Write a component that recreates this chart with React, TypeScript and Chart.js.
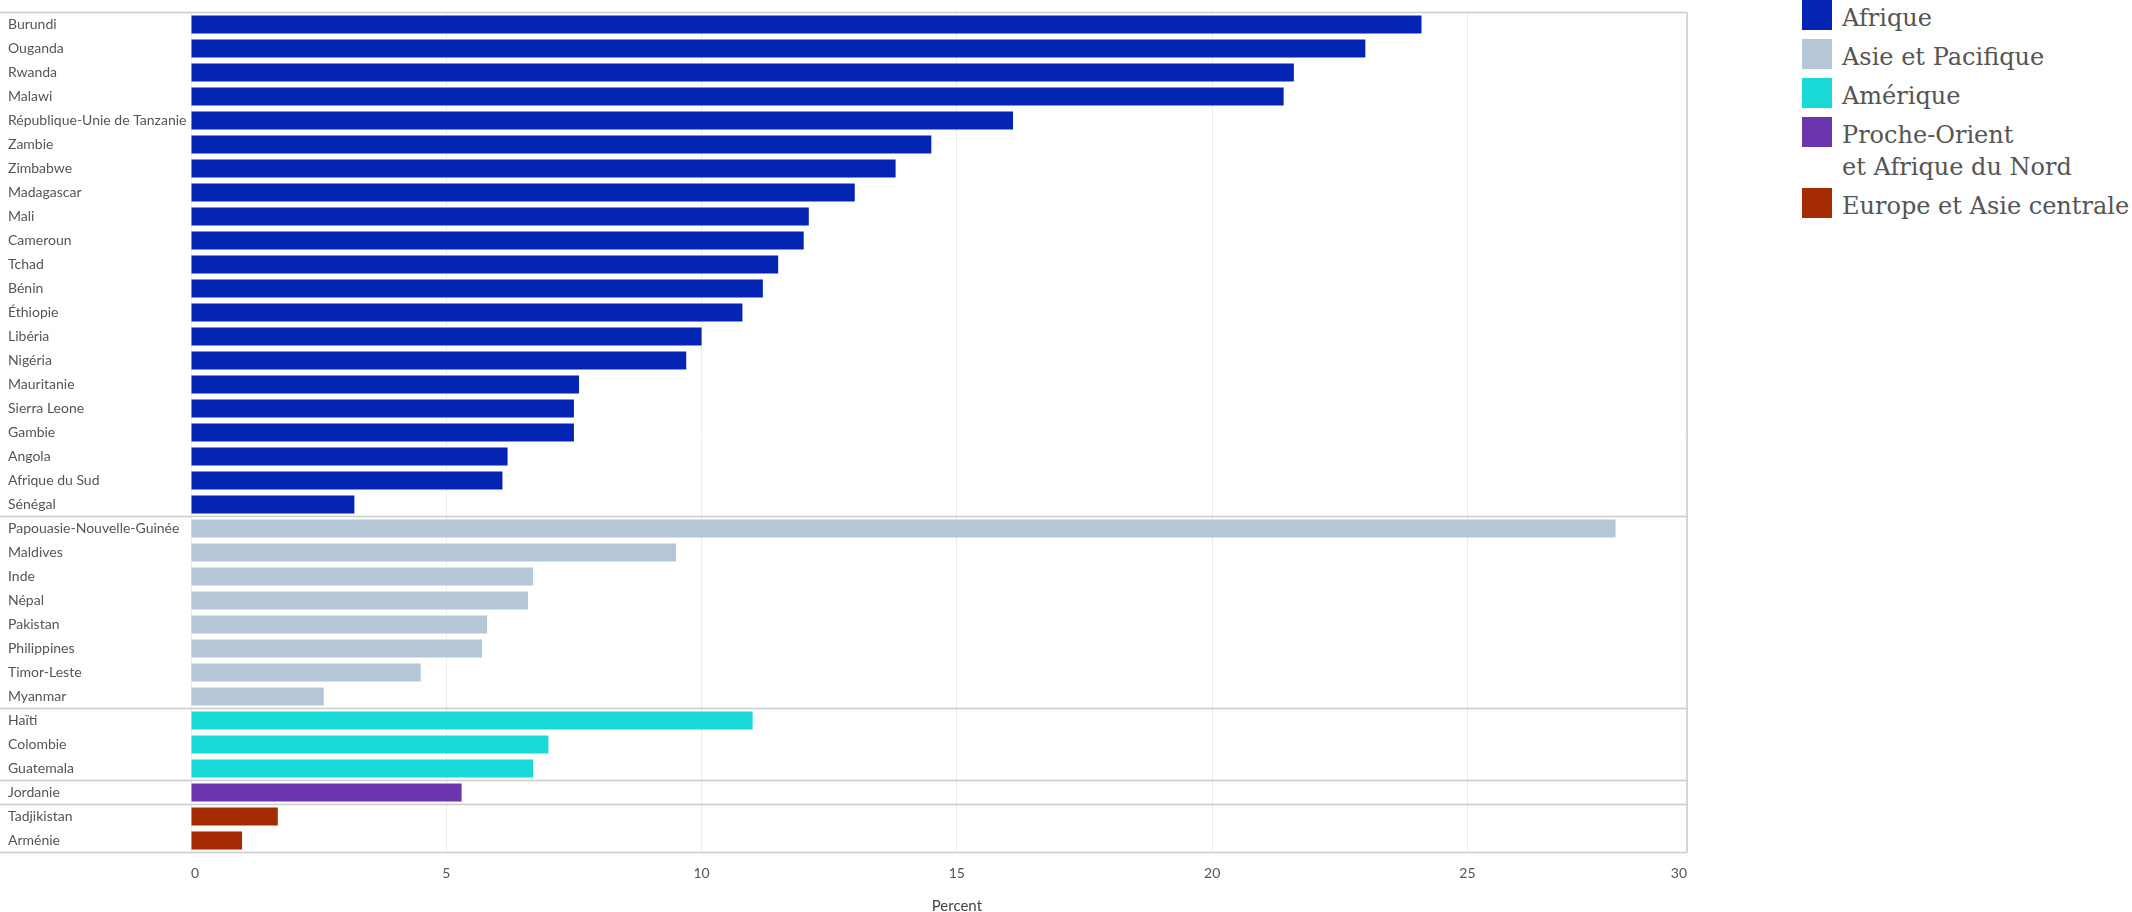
import React, { useEffect, useRef } from "react";
import { Chart, registerables } from "chart.js";

Chart.register(...registerables);

// ---- data ----
const countries = [
  "Burundi", "Ouganda", "Rwanda", "Malawi", "République-Unie de Tanzanie",
  "Zambie", "Zimbabwe", "Madagascar", "Mali", "Cameroun", "Tchad", "Bénin",
  "Éthiopie", "Libéria", "Nigéria", "Mauritanie", "Sierra Leone", "Gambie",
  "Angola", "Afrique du Sud", "Sénégal",
  "Papouasie-Nouvelle-Guinée", "Maldives", "Inde", "Népal", "Pakistan",
  "Philippines", "Timor-Leste", "Myanmar",
  "Haïti", "Colombie", "Guatemala",
  "Jordanie",
  "Tadjikistan", "Arménie",
];

const values = [
  24.1, 23.0, 21.6, 21.4, 16.1,
  14.5, 13.8, 13.0, 12.1, 12.0, 11.5, 11.2,
  10.8, 10.0, 9.7, 7.6, 7.5, 7.5,
  6.2, 6.1, 3.2,
  27.9, 9.5, 6.7, 6.6, 5.8,
  5.7, 4.5, 2.6,
  11.0, 7.0, 6.7,
  5.3,
  1.7, 1.0,
];

// region index of each country (same order as countries)
const countryRegion = [
  0, 0, 0, 0, 0, 0, 0, 0, 0, 0, 0, 0, 0, 0, 0, 0, 0, 0, 0, 0, 0,
  1, 1, 1, 1, 1, 1, 1, 1,
  2, 2, 2,
  3,
  4, 4,
];

const regionNames = [
  "Afrique",
  "Asie et Pacifique",
  "Amérique",
  "Proche-Orient\net Afrique du Nord",
  "Europe et Asie centrale",
];

const regionColors = ["#0425b3", "#b5c7d6", "#19d9d7", "#6b35ad", "#a52b02"];

const xTicks = [0, 5, 10, 15, 20, 25, 30];
const xMax = 29.3;
const xTitle = "Percent";

const LABEL_FONT = "Lato";
const TEXT_COLOR = "#555555";

const framePlugin = {
  id: "frame",
  beforeDatasetsDraw(chart: any) {
    const { ctx, chartArea, scales } = chart;
    const y = scales.y;
    ctx.save();
    ctx.strokeStyle = "#cccccc";
    ctx.lineWidth = 1.5;
    const ys: number[] = [chartArea.top, chartArea.bottom];
    for (let i = 1; i < countryRegion.length; i++) {
      if (countryRegion[i] !== countryRegion[i - 1]) {
        ys.push((y.getPixelForValue(i - 1) + y.getPixelForValue(i)) / 2);
      }
    }
    ys.forEach((py) => {
      ctx.beginPath();
      ctx.moveTo(0, py);
      ctx.lineTo(chartArea.right, py);
      ctx.stroke();
    });
    ctx.beginPath();
    ctx.moveTo(chartArea.right, chartArea.top);
    ctx.lineTo(chartArea.right, chartArea.bottom);
    ctx.stroke();
    ctx.restore();
  },
  afterDraw(chart: any) {
    const { ctx, scales } = chart;
    const x = scales.x;
    const cx =
      (x.getPixelForValue(xTicks[0]) +
        x.getPixelForValue(xTicks[xTicks.length - 1])) /
      2;
    ctx.save();
    ctx.font = `15px ${LABEL_FONT}`;
    ctx.fillStyle = "#444444";
    ctx.textAlign = "center";
    ctx.textBaseline = "middle";
    ctx.fillText(xTitle, cx, 906);
    ctx.restore();
  },
};

function BarChart() {
  const ref = useRef<HTMLCanvasElement | null>(null);
  useEffect(() => {
    if (!ref.current) return;
    const chart = new Chart(ref.current, {
      type: "bar",
      data: {
        labels: countries,
        datasets: [
          {
            data: values,
            backgroundColor: countryRegion.map((r) => regionColors[r]),
            borderWidth: 0,
            barPercentage: 0.75,
            categoryPercentage: 1,
          },
        ],
      },
      options: {
        indexAxis: "y",
        responsive: false,
        animation: false,
        devicePixelRatio: 1,
        layout: { padding: { left: 8, right: 9, top: 12.5, bottom: 0 } },
        plugins: {
          legend: { display: false },
          tooltip: { enabled: false },
        },
        scales: {
          x: {
            type: "linear",
            position: "bottom",
            min: 0,
            max: xMax,
            grid: { color: "#ececec", lineWidth: 1, drawTicks: false },
            border: { display: false },
            ticks: {
              align: "inner",
              padding: 13,
              maxRotation: 0,
              autoSkip: false,
              color: TEXT_COLOR,
              font: { family: LABEL_FONT, size: 14 },
              callback: (_v: any, i: number) => String(xTicks[i]),
            },
            afterBuildTicks: (s: any) => {
              s.ticks = xTicks.map((v) => ({ value: Math.min(v, s.max) }));
            },
            afterFit: (s: any) => {
              s.height = 59.5;
            },
          },
          y: {
            type: "category",
            grid: { display: false, drawTicks: false },
            border: { display: false },
            ticks: {
              crossAlign: "far",
              padding: 0,
              autoSkip: false,
              color: TEXT_COLOR,
              font: { family: LABEL_FONT, size: 14 },
            },
            afterFit: (s: any) => {
              s.width = 183;
            },
          },
        },
      },
      plugins: [framePlugin],
    } as any);
    return () => chart.destroy();
  }, []);
  return <canvas ref={ref} width={1700} height={912} />;
}

function Legend() {
  let top = 0;
  const items = regionNames.map((name, i) => {
    const lines = name.split("\n");
    const t = top;
    top += lines.length * 32 + 7;
    return (
      <div
        key={i}
        style={{ position: "absolute", left: 0, top: t, display: "flex" }}
      >
        <div
          style={{
            width: 30,
            height: 30,
            background: regionColors[i],
            flex: "none",
          }}
        />
        <div
          style={{
            marginLeft: 10,
            marginTop: 2,
            fontFamily: "'DejaVu Serif', serif",
            fontSize: 24,
            lineHeight: "32px",
            color: TEXT_COLOR,
            whiteSpace: "nowrap",
          }}
        >
          {lines.map((l, j) => (
            <div key={j}>{l}</div>
          ))}
        </div>
      </div>
    );
  });
  return (
    <div style={{ position: "absolute", left: 1802, top: 0 }}>{items}</div>
  );
}

export default function App() {
  return (
    <div
      style={{
        position: "fixed",
        left: 0,
        top: 0,
        width: 2132,
        height: 912,
        background: "#ffffff",
        overflow: "hidden",
      }}
    >
      <div style={{ position: "absolute", left: 0, top: 0 }}>
        <BarChart />
      </div>
      <Legend />
    </div>
  );
}
